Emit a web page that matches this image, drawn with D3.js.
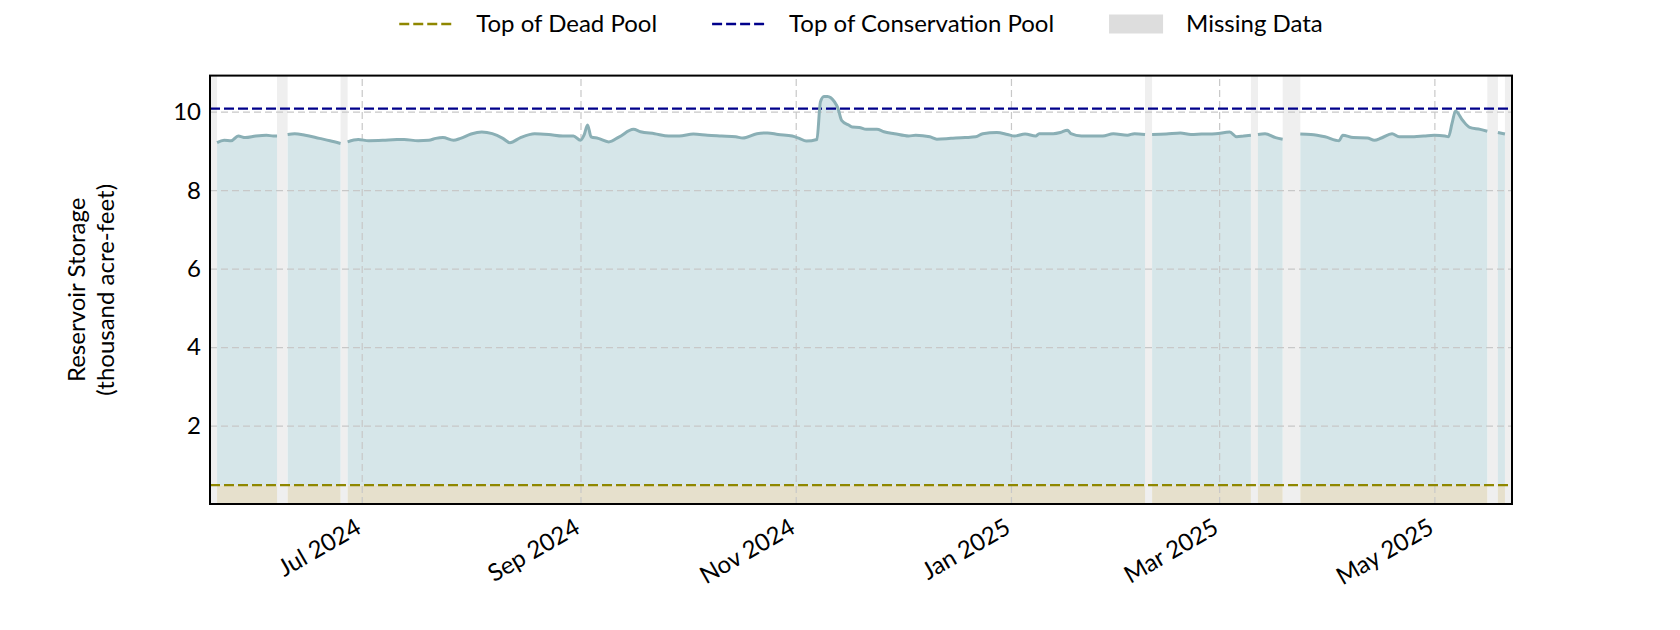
<!DOCTYPE html>
<html>
<head>
<meta charset="utf-8">
<script src="https://cdn.jsdelivr.net/npm/d3@7"></script>
<style>
  body { margin: 0; background: #fff; }
  svg { display: block; font-family: Lato, "Open Sans", sans-serif; }
</style>
</head>
<body>
<svg id="chart" width="1680" height="630"></svg>
<script>
// storage readings (thousand acre-feet); null marks a break in the record
const storageDates = [
  "2024-05-21","2024-05-23","2024-05-25","2024-05-27","2024-05-29","2024-06-01","2024-06-04","2024-06-06","2024-06-07",
  "2024-06-08",
  "2024-06-10","2024-06-12","2024-06-15","2024-06-19","2024-06-22","2024-06-25",
  "2024-06-26",
  "2024-06-27","2024-06-30","2024-07-03","2024-07-07","2024-07-11","2024-07-13","2024-07-17","2024-07-20","2024-07-22",
  "2024-07-24","2024-07-27","2024-07-29","2024-08-01","2024-08-04","2024-08-07","2024-08-10","2024-08-12","2024-08-15",
  "2024-08-19","2024-08-23","2024-08-27","2024-08-30","2024-09-01","2024-09-02","2024-09-03","2024-09-04","2024-09-06",
  "2024-09-09","2024-09-12","2024-09-16","2024-09-18","2024-09-22","2024-09-26","2024-09-29","2024-10-03","2024-10-07",
  "2024-10-11","2024-10-15","2024-10-17","2024-10-21","2024-10-24","2024-10-27","2024-10-31","2024-11-02","2024-11-04",
  "2024-11-07","2024-11-08","2024-11-09","2024-11-10","2024-11-12","2024-11-13","2024-11-14","2024-11-16","2024-11-17",
  "2024-11-19","2024-11-21","2024-11-24","2024-11-26","2024-11-29","2024-12-03","2024-12-05","2024-12-09","2024-12-11",
  "2024-12-15","2024-12-19","2024-12-22","2024-12-24","2024-12-28","2024-12-31","2025-01-02","2025-01-05","2025-01-08",
  "2025-01-09","2025-01-13","2025-01-15","2025-01-17","2025-01-18","2025-01-21","2025-01-23","2025-01-27","2025-01-30",
  "2025-02-03","2025-02-05","2025-02-08",
  "2025-02-09",
  "2025-02-10","2025-02-14","2025-02-18","2025-02-21","2025-02-24","2025-02-28","2025-03-04","2025-03-06","2025-03-08","2025-03-10",
  "2025-03-11",
  "2025-03-12","2025-03-14","2025-03-17","2025-03-19",
  "2025-03-21",
  "2025-03-24","2025-03-27","2025-03-31","2025-04-04","2025-04-05","2025-04-08","2025-04-12","2025-04-14","2025-04-16",
  "2025-04-19","2025-04-21","2025-04-24","2025-04-28","2025-05-01","2025-05-04","2025-05-05","2025-05-06","2025-05-07",
  "2025-05-09","2025-05-11","2025-05-14","2025-05-16",
  "2025-05-17",
  "2025-05-19","2025-05-21"
];
const storageValues = [
  9.21,9.27,9.26,9.38,9.34,9.38,9.40,9.38,9.38,
  null,
  9.42,9.44,9.40,9.32,9.26,9.19,
  null,
  9.23,9.29,9.26,9.27,9.29,9.29,9.26,9.27,9.32,
  9.34,9.27,9.32,9.43,9.48,9.44,9.32,9.21,9.34,
  9.44,9.42,9.38,9.38,9.27,9.40,9.66,9.36,9.32,
  9.23,9.36,9.55,9.49,9.44,9.38,9.38,9.43,9.40,
  9.38,9.36,9.33,9.44,9.46,9.42,9.38,9.32,9.25,
  9.29,10.25,10.39,10.39,10.25,10.08,9.78,9.66,9.61,
  9.60,9.55,9.55,9.49,9.44,9.38,9.40,9.36,9.30,
  9.32,9.34,9.36,9.44,9.47,9.42,9.38,9.43,9.38,
  9.44,9.44,9.47,9.53,9.44,9.38,9.38,9.38,9.44,
  9.40,9.44,9.42,
  null,
  9.42,9.43,9.46,9.42,9.43,9.44,9.48,9.36,9.38,9.40,
  null,
  9.42,9.44,9.34,9.30,
  null,
  9.43,9.42,9.36,9.26,9.40,9.34,9.33,9.27,9.33,
  9.44,9.36,9.36,9.38,9.40,9.38,9.36,9.70,10.02,
  9.78,9.60,9.55,9.50,
  null,
  9.47,9.43
];

const missingStarts = ["2024-05-19","2024-06-07","2024-06-25","2025-02-08","2025-03-10","2025-03-19","2025-05-16","2025-05-21"];
const missingEnds   = ["2024-05-21","2024-06-10","2024-06-27","2025-02-10","2025-03-12","2025-03-24","2025-05-19","2025-05-23"];

const deadPool = 0.48;
const conservationPool = 10.08;

const xDomain = ["2024-05-19", "2025-05-23"];
const yMax = 10.92;
const xTickDates = ["2024-07-01","2024-09-01","2024-11-01","2025-01-01","2025-03-01","2025-05-01"];
const yTickValues = [2, 4, 6, 8, 10];

const legendLabels = ["Top of Dead Pool", "Top of Conservation Pool", "Missing Data"];

const parse = d3.utcParse("%Y-%m-%d");
const fmt = d3.utcFormat("%b %Y");
const FS = 24;

const svg = d3.select("#chart");
const M = { left: 210, right: 168, top: 75.6, bottom: 126 };
const W = 1680 - M.left - M.right;
const H = 630 - M.top - M.bottom;
const g = svg.append("g").attr("transform", `translate(${M.left},${M.top})`);

const x = d3.scaleUtc().domain(xDomain.map(parse)).range([0, W]);
const y = d3.scaleLinear().domain([0, yMax]).range([H, 0]);

const data = storageDates.map((d, i) => ({ date: parse(d), v: storageValues[i] }));

// missing spans
g.append("g").selectAll("rect")
  .data(missingStarts.map((s, i) => [parse(s), parse(missingEnds[i])]))
  .join("rect")
  .attr("x", d => x(d[0]))
  .attr("width", d => x(d[1]) - x(d[0]))
  .attr("y", 0)
  .attr("height", H)
  .attr("fill", "#efefef");

// fills
const deadArea = d3.area()
  .defined(d => d.v != null)
  .x(d => x(d.date))
  .y0(y(0))
  .y1(y(deadPool));

const storeArea = d3.area()
  .defined(d => d.v != null)
  .curve(d3.curveMonotoneX)
  .x(d => x(d.date))
  .y0(y(deadPool))
  .y1(d => y(d.v));

g.append("path").datum(data).attr("d", deadArea).attr("fill", "#e6e0cc");
g.append("path").datum(data).attr("d", storeArea).attr("fill", "#d6e6e9");

// grid
const xGrid = g.append("g")
  .attr("transform", `translate(0,${H})`)
  .call(d3.axisBottom(x).tickValues(xTickDates.map(parse)).tickSize(-H).tickFormat(""));
const yGrid = g.append("g")
  .call(d3.axisLeft(y).tickValues(yTickValues).tickSize(-W).tickFormat(""));
[xGrid, yGrid].forEach(a => {
  a.select(".domain").remove();
  a.selectAll("line")
    .attr("stroke", "#c8c8c8")
    .attr("stroke-width", 1.2)
    .attr("stroke-dasharray", "7,4");
});

// reference levels
g.append("line")
  .attr("x1", 0).attr("x2", W)
  .attr("y1", y(deadPool)).attr("y2", y(deadPool))
  .attr("stroke", "#8f8700").attr("stroke-width", 2.2).attr("stroke-dasharray", "10,4");
g.append("line")
  .attr("x1", 0).attr("x2", W)
  .attr("y1", y(conservationPool)).attr("y2", y(conservationPool))
  .attr("stroke", "#00008b").attr("stroke-width", 2.2).attr("stroke-dasharray", "10,4");

// storage line
const line = d3.line()
  .defined(d => d.v != null)
  .curve(d3.curveMonotoneX)
  .x(d => x(d.date))
  .y(d => y(d.v));

g.append("path")
  .datum(data)
  .attr("d", line)
  .attr("fill", "none")
  .attr("stroke", "#8aafb5")
  .attr("stroke-width", 3)
  .attr("stroke-linejoin", "round");

// frame
g.append("rect")
  .attr("width", W).attr("height", H)
  .attr("fill", "none").attr("stroke", "#000").attr("stroke-width", 2);

// tick labels
g.append("g").selectAll("text")
  .data(xTickDates.map(parse))
  .join("text")
  .attr("transform", d => `translate(${x(d) + 1},${H + 28}) rotate(-30)`)
  .attr("text-anchor", "end")
  .attr("font-size", FS)
  .attr("fill", "#000")
  .text(d => fmt(d));

g.append("g").selectAll("text")
  .data(yTickValues)
  .join("text")
  .attr("x", -9)
  .attr("y", d => y(d))
  .attr("dy", "0.35em")
  .attr("text-anchor", "end")
  .attr("font-size", FS)
  .attr("fill", "#000")
  .text(d => d);

// y label
const yl = svg.append("text")
  .attr("transform", `translate(85,${M.top + H / 2}) rotate(-90)`)
  .attr("text-anchor", "middle")
  .attr("font-size", FS)
  .attr("fill", "#000");
yl.append("tspan").attr("x", 0).attr("y", 0).text("Reservoir Storage");
yl.append("tspan").attr("x", 0).attr("y", 28.5).text("(thousand acre-feet)");

// legend
const leg = svg.append("g");
let cx = 0;
legendLabels.forEach((lab, i) => {
  const item = leg.append("g").attr("transform", `translate(${cx},0)`);
  if (i < 2) {
    item.append("line")
      .attr("x1", 0).attr("x2", 53).attr("y1", 0).attr("y2", 0)
      .attr("stroke", i === 0 ? "#8f8700" : "#00008b")
      .attr("stroke-width", 2.4)
      .attr("stroke-dasharray", "10,4");
  } else {
    item.append("rect")
      .attr("x", 0).attr("y", -9.5).attr("width", 54).attr("height", 19)
      .attr("fill", "#dddddd");
  }
  const t = item.append("text")
    .attr("x", 77).attr("dy", "0.35em")
    .attr("font-size", FS).attr("fill", "#000")
    .text(lab);
  cx += 77 + t.node().getComputedTextLength() + 55;
});
const legW = cx - 55;
leg.attr("transform", `translate(${M.left + W / 2 - legW / 2},24)`);
</script>
</body>
</html>
